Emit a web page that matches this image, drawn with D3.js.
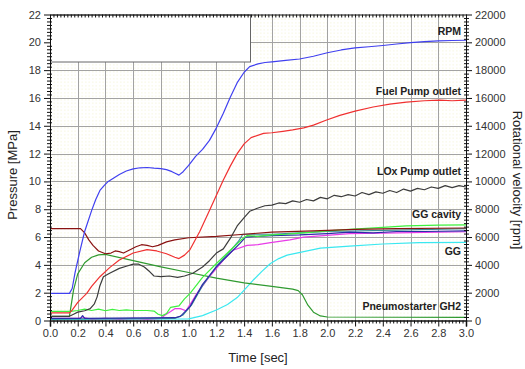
<!DOCTYPE html>
<html>
<head>
<meta charset="utf-8">
<title>Engine start transient</title>
<style>
  body { margin: 0; background: #fff; }
  svg { display: block; font-family: "Liberation Sans", Arial, sans-serif; }
  .axis { font-family: "Liberation Sans", Arial, sans-serif; }
  .tick text { font-size: 11px; fill: #333; }
  .axis path, .axis line { stroke: #111; }
  .grid line { stroke: #a3a3a3; stroke-width: 1; }
  .series { fill: none; stroke-width: 1.2px; stroke-linejoin: round; }
  .series-label { font-size: 10.5px; font-weight: bold; fill: #222; text-anchor: end; }
  .title { font-size: 13px; fill: #222; }
</style>
</head>
<body>
<script src="https://cdnjs.cloudflare.com/ajax/libs/d3/7.8.5/d3.min.js"></script>
<script>
    // Values: [time s, value]
    // pressures in MPa, rotational speed in rpm
    const rpm = [[0,1950],[0.07,1960],[0.14,1950],[0.16,2300],[0.18,3400],[0.2,4300],[0.216,5000],[0.25,6400],
        [0.3,7900],[0.33,8700],[0.36,9350],[0.39,9700],[0.42,10000],[0.46,10250],[0.5,10500],[0.55,10750],
        [0.6,10900],[0.65,10980],[0.7,11000],[0.75,10950],[0.8,10920],[0.84,10850],[0.88,10700],[0.91,10550],
        [0.93,10450],[0.96,10700],[1.0,11150],[1.05,11800],[1.1,12300],[1.15,12950],[1.2,13850],[1.25,14900],
        [1.3,16050],[1.35,17100],[1.4,17850],[1.44,18250],[1.5,18450],[1.55,18550],[1.6,18600],[1.7,18700],
        [1.8,18800],[1.9,19000],[2.0,19250],[2.1,19450],[2.2,19600],[2.3,19680],[2.4,19770],[2.5,19880],
        [2.6,19980],[2.7,20050],[2.8,20100],[2.9,20130],[3.0,20150]];

    const fuelPump = [[0,0.55],[0.14,0.55],[0.16,0.75],[0.2,1.3],[0.265,1.95],[0.3,2.45],[0.36,3.15],[0.43,3.8],
        [0.5,4.35],[0.6,4.85],[0.7,5.1],[0.77,5.0],[0.84,4.8],[0.9,4.55],[0.93,4.45],[0.97,4.7],[1.01,5.1],
        [1.08,6.4],[1.15,7.9],[1.2,9.0],[1.25,10.1],[1.3,11.1],[1.35,12.0],[1.4,12.7],[1.45,13.15],[1.54,13.45],
        [1.6,13.5],[1.68,13.6],[1.75,13.7],[1.83,13.85],[1.9,14.05],[1.99,14.4],[2.09,14.75],[2.2,15.05],
        [2.33,15.35],[2.45,15.55],[2.57,15.7],[2.7,15.8],[2.81,15.85],[2.9,15.8],[3.0,15.85]];

    const loxPump = [[0,0.3],[0.14,0.3],[0.17,0.45],[0.2,0.6],[0.25,0.7],[0.29,0.85],[0.32,1.2],[0.34,1.7],
        [0.36,2.5],[0.385,3.15],[0.43,3.4],[0.5,3.75],[0.55,3.9],[0.6,4.05],[0.64,4.05],[0.68,3.85],[0.72,3.5],
        [0.75,3.2],[0.8,3.15],[0.86,3.2],[0.92,3.1],[0.97,3.2],[1.03,3.4],[1.1,3.85],[1.15,4.3],[1.2,4.85],
        [1.25,5.15],[1.3,5.9],[1.35,6.8],[1.4,7.4],[1.44,7.85],[1.49,8.05],[1.55,8.25],[1.6,8.3],[1.65,8.45],
        [1.7,8.4],[1.75,8.6],[1.8,8.5],[1.85,8.7],[1.9,8.6],[1.95,8.85],[2.0,8.75],[2.05,9.0],[2.1,8.9],
        [2.15,9.05],[2.2,8.95],[2.25,9.2],[2.3,9.05],[2.35,9.25],[2.4,9.15],[2.45,9.35],[2.5,9.2],[2.55,9.45],
        [2.6,9.3],[2.65,9.5],[2.7,9.4],[2.75,9.6],[2.8,9.5],[2.85,9.7],[2.9,9.55],[2.95,9.7],[3.0,9.6]];

    const ggCavity = [[0,0.65],[0.15,0.65],[0.2,0.72],[0.25,0.82],[0.3,0.72],[0.35,0.82],[0.4,0.7],[0.45,0.8],
        [0.5,0.72],[0.55,0.76],[0.6,0.72],[0.7,0.72],[0.75,0.68],[0.78,0.45],[0.81,0.35],[0.84,0.5],[0.87,0.95],
        [0.9,1.0],[0.93,1.05],[0.97,1.55],[1.01,1.95],[1.1,3.1],[1.2,4.1],[1.3,5.05],[1.38,5.8],[1.42,6.1],
        [1.5,6.05],[1.6,6.15],[1.7,6.2],[1.83,6.3],[2.0,6.45],[2.16,6.55],[2.4,6.7],[2.57,6.8],[2.8,6.85],[3.0,6.87]];

    const ggInlet = [[0,0.15],[0.2,0.15],[0.25,0.2],[0.3,0.1],[0.4,0.15],[0.5,0.1],[0.6,0.15],[0.7,0.1],
        [0.8,0.15],[0.83,0.4],[0.87,0.65],[0.9,0.85],[0.94,0.85],[0.98,0.7],[1.02,1.3],[1.06,1.95],[1.15,3.15],
        [1.25,4.35],[1.32,5.05],[1.42,5.4],[1.5,5.45],[1.59,5.6],[1.73,5.8],[1.83,6.0],[2.16,6.25],[2.5,6.3],[3.0,6.38]];

    const chamber = [[0,0.15],[0.22,0.15],[0.235,0.35],[0.25,0.15],[0.9,0.2],[0.94,0.3],[1.01,1.0],[1.1,2.6],
        [1.2,3.85],[1.3,4.85],[1.37,5.55],[1.41,6.0],[1.5,6.05],[1.6,6.1],[1.8,6.15],[2.0,6.25],[2.16,6.35],
        [2.33,6.3],[2.5,6.4],[2.7,6.4],[3.0,6.45]];

    const turbine = [[0,0.1],[0.9,0.15],[0.96,0.4],[1.02,1.1],[1.1,2.5],[1.2,3.9],[1.3,5.0],[1.36,5.7],
        [1.39,6.2],[1.45,6.2],[1.6,6.2],[1.8,6.3],[2.0,6.4],[2.5,6.5],[3.0,6.6]];

    const gg = [[0,0.08],[1.0,0.12],[1.1,0.35],[1.2,0.75],[1.28,1.15],[1.35,1.65],[1.42,2.4],[1.47,2.95],
        [1.53,3.55],[1.59,4.1],[1.65,4.45],[1.71,4.7],[1.83,4.95],[1.95,5.2],[2.16,5.35],[2.4,5.5],[2.66,5.6],[3.0,5.62]];

    const tank = [[0,6.6],[0.22,6.6],[0.25,6.3],[0.28,5.8],[0.31,5.4],[0.35,5.0],[0.4,4.8],[0.44,4.85],
        [0.47,5.0],[0.5,4.95],[0.53,4.85],[0.57,5.05],[0.62,5.3],[0.66,5.45],[0.7,5.4],[0.74,5.3],[0.78,5.4],
        [0.84,5.65],[0.9,5.8],[1.0,5.95],[1.2,6.05],[1.4,6.2],[1.6,6.35],[1.9,6.45],[2.2,6.55],[2.5,6.6],[3.0,6.65]];

    const pneumostarter = [[0,0.3],[0.14,0.3],[0.17,2.2],[0.2,3.35],[0.25,4.15],[0.3,4.55],[0.35,4.72],
        [0.4,4.75],[0.6,4.3],[0.8,3.85],[1.0,3.45],[1.2,3.05],[1.4,2.7],[1.6,2.45],[1.75,2.25],[1.79,2.15],
        [1.82,1.85],[1.86,1.1],[1.9,0.6],[1.95,0.33],[2.0,0.25],[3.0,0.22]];

    const labels = ["RPM", "Fuel Pump outlet", "LOx Pump outlet", "GG cavity", "GG", "Pneumostarter GH2"];
    const labelLevels = [20.8, 16.5, 10.7, 7.6, 5.0, 1.0];   // MPa
    const xTicks = d3.range(0, 16).map(i => i / 5);
    const yTicks = d3.range(0, 23, 2);
    const rpmTicks = d3.range(0, 22001, 2000);

    const width = 525, height = 369;
    const margin = {top: 14.5, right: 59, bottom: 48.5, left: 50};
    const x0 = margin.left, x1 = width - margin.right;
    const yBottom = height - margin.bottom, yTop = margin.top;

    const x = d3.scaleLinear().domain([0, 3]).range([x0, x1]);
    const y = d3.scaleLinear().domain([0, 22]).range([yBottom, yTop]);
    const yR = d3.scaleLinear().domain([0, 22000]).range([yBottom, yTop]);

    const svg = d3.select("body").append("svg")
        .attr("width", width)
        .attr("height", height);

    // faint dotted background of the plot area
    const defs = svg.append("defs");
    const pat = defs.append("pattern")
        .attr("id", "dots")
        .attr("patternUnits", "userSpaceOnUse")
        .attr("width", 3.5).attr("height", 3.5);
    pat.append("rect").attr("width", 3.5).attr("height", 3.5).attr("fill", "#fff");
    pat.append("circle").attr("cx", 1.75).attr("cy", 1.75).attr("r", 0.55).attr("fill", "#f2f2cc");

    svg.append("rect")
        .attr("x", x0).attr("y", yTop)
        .attr("width", x1 - x0).attr("height", yBottom - yTop)
        .attr("fill", "url(#dots)");

    // grid
    const grid = svg.append("g").attr("class", "grid");
    grid.selectAll("line.v")
        .data(xTicks.filter(t => t > 0 && t < 3))
        .join("line")
        .attr("x1", d => Math.round(x(d)) + 0.5).attr("x2", d => Math.round(x(d)) + 0.5)
        .attr("y1", yTop).attr("y2", yBottom);
    grid.selectAll("line.h")
        .data(yTicks.filter(v => v > 0 && v < 22))
        .join("line")
        .attr("x1", x0).attr("x2", x1)
        .attr("y1", d => Math.round(y(d)) + 0.5).attr("y2", d => Math.round(y(d)) + 0.5);

    // series
    const line = d3.line().x(d => x(d[0])).y(d => y(d[1]));
    const lineR = d3.line().x(d => x(d[0])).y(d => yR(d[1]));

    const series = [
        {data: gg, color: "#3ae8f0"},
        {data: pneumostarter, color: "#2f9a2f"},
        {data: ggInlet, color: "#e83ce8"},
        {data: turbine, color: "#3a8f96"},
        {data: chamber, color: "#2c2ca8"},
        {data: ggCavity, color: "#3ef03e"},
        {data: tank, color: "#8a1212"},
        {data: loxPump, color: "#3c3c3c"},
        {data: fuelPump, color: "#f03030"}
    ];

    svg.append("g").selectAll("path")
        .data(series)
        .join("path")
        .attr("class", "series")
        .attr("stroke", d => d.color)
        .attr("d", d => line(d.data));

    svg.append("path")
        .attr("class", "series")
        .attr("stroke", "#4040f0")
        .attr("d", lineR(rpm));

    // empty legend frame
    svg.append("rect")
        .attr("x", x0 + 0.5).attr("y", yTop + 0.5)
        .attr("width", 200).attr("height", 47)
        .attr("fill", "#fff")
        .attr("stroke", "#666");

    // series labels
    svg.append("g").selectAll("text")
        .data(labels)
        .join("text")
        .attr("class", "series-label")
        .attr("x", x1 - 5)
        .attr("y", (d, i) => y(labelLevels[i]))
        .attr("dy", "0.35em")
        .text(d => d);

    // axes
    const minorX = d3.range(0, 121).filter(i => i % 8 !== 0).map(i => i / 40);
    const minorY = d3.range(0, 89).filter(i => i % 8 !== 0).map(i => i / 4);

    svg.append("g")
        .attr("class", "axis")
        .attr("transform", `translate(0,${yBottom})`)
        .call(d3.axisBottom(x).tickValues(xTicks).tickFormat(d3.format(".1f")).tickSize(6).tickPadding(3))
        .call(g => g.select(".domain").attr("stroke-width", 1.5));
    svg.append("g")
        .attr("class", "axis")
        .attr("transform", `translate(0,${yBottom})`)
        .call(d3.axisBottom(x).tickValues(minorX).tickFormat("").tickSize(3).tickSizeOuter(0))
        .call(g => g.select(".domain").remove());

    // top edge with inward ticks
    svg.append("g")
        .attr("class", "axis")
        .attr("transform", `translate(0,${yTop})`)
        .call(d3.axisBottom(x).tickValues(minorX.concat(xTicks)).tickFormat("").tickSize(3).tickSizeOuter(0));

    svg.append("g")
        .attr("class", "axis")
        .attr("transform", `translate(${x0},0)`)
        .call(d3.axisLeft(y).tickValues(yTicks).tickSize(6).tickPadding(3).tickSizeOuter(0));
    svg.append("g")
        .attr("class", "axis")
        .attr("transform", `translate(${x0 + 2},0)`)
        .call(d3.axisLeft(y).tickValues(minorY).tickFormat("").tickSize(5).tickSizeOuter(0))
        .call(g => g.select(".domain").remove());

    svg.append("g")
        .attr("class", "axis")
        .attr("transform", `translate(${x1},0)`)
        .call(d3.axisRight(yR).tickValues(rpmTicks).tickFormat(d3.format("d")).tickSize(6).tickPadding(3).tickSizeOuter(0));
    svg.append("g")
        .attr("class", "axis")
        .attr("transform", `translate(${x1 - 2},0)`)
        .call(d3.axisRight(y).tickValues(minorY).tickFormat("").tickSize(5).tickSizeOuter(0))
        .call(g => g.select(".domain").remove());

    // axis titles
    svg.append("text")
        .attr("class", "title")
        .attr("x", (x0 + x1) / 2).attr("y", 362)
        .attr("text-anchor", "middle")
        .text("Time [sec]");
    svg.append("text")
        .attr("class", "title")
        .attr("transform", `translate(17,175) rotate(-90)`)
        .attr("text-anchor", "middle")
        .text("Pressure [MPa]");
    svg.append("text")
        .attr("class", "title")
        .attr("transform", `translate(513,180) rotate(90)`)
        .attr("text-anchor", "middle")
        .text("Rotational velocity [rpm]");
</script>
</body>
</html>
